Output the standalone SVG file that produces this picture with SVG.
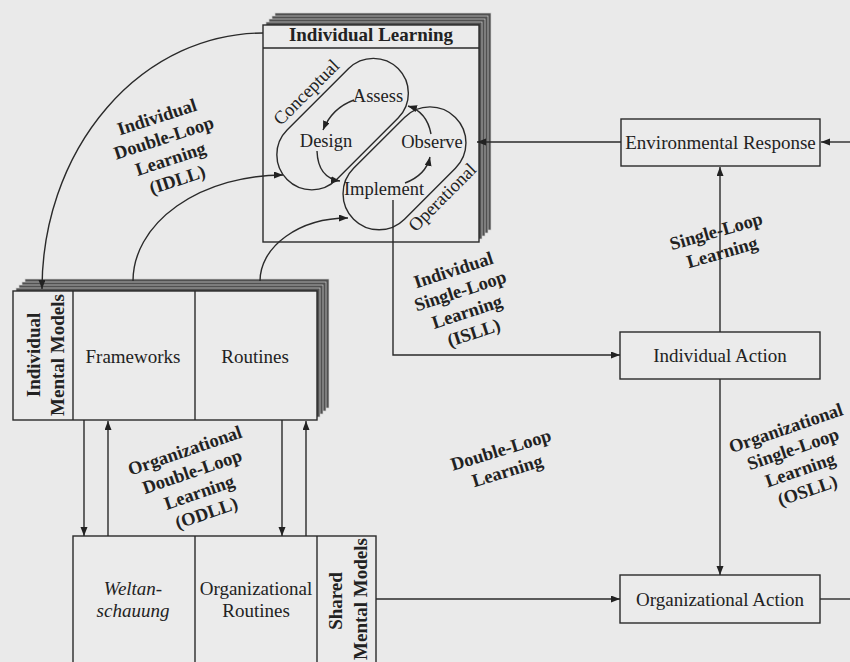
<svg xmlns="http://www.w3.org/2000/svg" width="850" height="662" viewBox="0 0 850 662">
<style>
  .bg{fill:#eaeaea}
  .box{fill:#ebebeb;stroke:#2a2a2a;stroke-width:1.4}
  .sheet{fill:#505050;stroke:#d0d0d0;stroke-width:0.7}
  .ln{fill:none;stroke:#2a2a2a;stroke-width:1.4}
  .arr{fill:none;stroke:#2a2a2a;stroke-width:1.4;marker-end:url(#ah)}
  .t{font-family:"Liberation Serif","Times New Roman",serif;font-size:19px;fill:#222;text-anchor:middle}
  .ti{font-family:"Liberation Serif","Times New Roman",serif;font-size:19px;fill:#222;text-anchor:middle;font-style:italic}
  .s{font-family:"Liberation Serif","Times New Roman",serif;font-size:18.5px;fill:#222;text-anchor:middle}
  .b{font-family:"Liberation Serif","Times New Roman",serif;font-size:18.5px;font-weight:bold;fill:#222;text-anchor:middle}
</style>
<defs>
  <marker id="ah" markerUnits="userSpaceOnUse" markerWidth="10" markerHeight="8" refX="9" refY="3.5" orient="auto">
    <path d="M0,0 L9,3.5 L0,7 z" fill="#222"/>
  </marker>
</defs>
<rect class="bg" x="0" y="0" width="850" height="662"/>

<g id="individual-learning">
  <rect class="sheet" x="275" y="13" width="216" height="217"/>
  <rect class="sheet" x="272" y="16" width="216" height="217"/>
  <rect class="sheet" x="269" y="19" width="216" height="217"/>
  <rect class="sheet" x="266" y="22" width="216" height="217"/>
  <rect class="box" x="263" y="25" width="216" height="217"/>
  <line class="ln" x1="263" y1="48" x2="479" y2="48"/>
  <text class="b" x="371" y="41" style="font-size:19px">Individual Learning</text>
  <rect class="ln" x="-78.5" y="-35" width="157" height="70" rx="35" transform="translate(342.6,124.1) rotate(-45)"/>
  <rect class="ln" x="-72" y="-36" width="144" height="72" rx="36" transform="translate(404.5,168.3) rotate(-45)"/>
  <path class="arr" d="M354,100 Q332,108 323,130"/>
  <path class="arr" d="M317,151 Q318,178 340,181"/>
  <path class="arr" d="M405,183 Q426,175 430,157"/>
  <path class="arr" d="M431,134 Q427,112 408,106"/>
  <text class="s" x="378" y="102">Assess</text>
  <text class="s" x="326" y="147">Design</text>
  <text class="s" x="432" y="148">Observe</text>
  <text class="s" x="384" y="195">Implement</text>
  <text class="s" transform="translate(306,92) rotate(-45)" dy="0.35em">Conceptual</text>
  <text class="s" transform="translate(442,197) rotate(-45)" dy="0.35em">Operational</text>
</g>

<g id="individual-mental-models">
  <rect class="sheet" x="25" y="279" width="304" height="129"/>
  <rect class="sheet" x="22" y="282" width="304" height="129"/>
  <rect class="sheet" x="19" y="285" width="304" height="129"/>
  <rect class="sheet" x="16" y="288" width="304" height="129"/>
  <rect class="box" x="13" y="291" width="304" height="129"/>
  <line class="ln" x1="73" y1="291" x2="73" y2="420"/>
  <line class="ln" x1="195" y1="291" x2="195" y2="420"/>
  <text class="b" style="font-size:19px" transform="translate(40,355) rotate(-90)">Individual</text>
  <text class="b" style="font-size:19px" transform="translate(64,355) rotate(-90)">Mental Models</text>
  <text class="t" x="133" y="363">Frameworks</text>
  <text class="t" x="255" y="363">Routines</text>
</g>

<g id="shared-mental-models">
  <rect class="box" x="73" y="536" width="303" height="140"/>
  <line class="ln" x1="195" y1="536" x2="195" y2="662"/>
  <line class="ln" x1="317" y1="536" x2="317" y2="662"/>
  <text class="ti" x="133" y="595">Weltan-</text>
  <text class="ti" x="133" y="617">schauung</text>
  <text class="t" x="256" y="595">Organizational</text>
  <text class="t" x="256" y="617">Routines</text>
  <text class="b" style="font-size:19px" transform="translate(342,601) rotate(-90)">Shared</text>
  <text class="b" style="font-size:19px" transform="translate(367,599) rotate(-90)">Mental Models</text>
</g>

<g id="environmental-response">
  <rect class="box" x="621" y="119" width="199" height="47"/>
  <text class="t" x="720.5" y="149">Environmental Response</text>
</g>

<g id="individual-action">
  <rect class="box" x="620" y="332" width="200" height="47"/>
  <text class="t" x="720" y="362">Individual Action</text>
</g>

<g id="organizational-action">
  <rect class="box" x="620" y="575" width="200" height="48"/>
  <text class="t" x="720" y="606">Organizational Action</text>
</g>

<g id="connectors">
  <path class="arr" d="M263,33 A221,256 0 0 0 42,289"/>
  <path class="arr" d="M133,281 A150,106 0 0 1 283,175"/>
  <path class="arr" d="M260,281 A88,63 0 0 1 348,218"/>
  <path class="arr" d="M850,142 H821"/>
  <path class="arr" d="M621,142 H477"/>
  <path class="arr" d="M720,332 V167"/>
  <path class="arr" d="M720,379 V575"/>
  <path class="arr" d="M393,200 V355 H620"/>
  <path class="arr" d="M376,599 H620"/>
  <path class="ln" d="M820,599 H850"/>
  <path class="arr" d="M84,420 V536"/>
  <path class="arr" d="M108,536 V421"/>
  <path class="arr" d="M282,420 V536"/>
  <path class="arr" d="M306,536 V421"/>
</g>

<g id="labels">
  <g transform="translate(167,148) rotate(-18)">
    <text class="b" y="-33" dy="0.35em">Individual</text>
    <text class="b" y="-11" dy="0.35em">Double-Loop</text>
    <text class="b" y="11" dy="0.35em">Learning</text>
    <text class="b" y="33" dy="0.35em">(IDLL)</text>
  </g>
  <g transform="translate(195.5,481.5) rotate(-19)">
    <text class="b" y="-33" dy="0.35em">Organizational</text>
    <text class="b" y="-11" dy="0.35em">Double-Loop</text>
    <text class="b" y="11" dy="0.35em">Learning</text>
    <text class="b" y="33" dy="0.35em">(ODLL)</text>
  </g>
  <g transform="translate(463.5,301) rotate(-18)">
    <text class="b" y="-33" dy="0.35em">Individual</text>
    <text class="b" y="-11" dy="0.35em">Single-Loop</text>
    <text class="b" y="11" dy="0.35em">Learning</text>
    <text class="b" y="33" dy="0.35em">(ISLL)</text>
  </g>
  <g transform="translate(719,241.5) rotate(-16)">
    <text class="b" y="-11" dy="0.35em">Single-Loop</text>
    <text class="b" y="11" dy="0.35em">Learning</text>
  </g>
  <g transform="translate(796.5,459) rotate(-19)">
    <text class="b" y="-33" dy="0.35em">Organizational</text>
    <text class="b" y="-11" dy="0.35em">Single-Loop</text>
    <text class="b" y="11" dy="0.35em">Learning</text>
    <text class="b" y="33" dy="0.35em">(OSLL)</text>
  </g>
  <g transform="translate(504,460) rotate(-17)">
    <text class="b" y="-11" dy="0.35em">Double-Loop</text>
    <text class="b" y="11" dy="0.35em">Learning</text>
  </g>
</g>
</svg>
